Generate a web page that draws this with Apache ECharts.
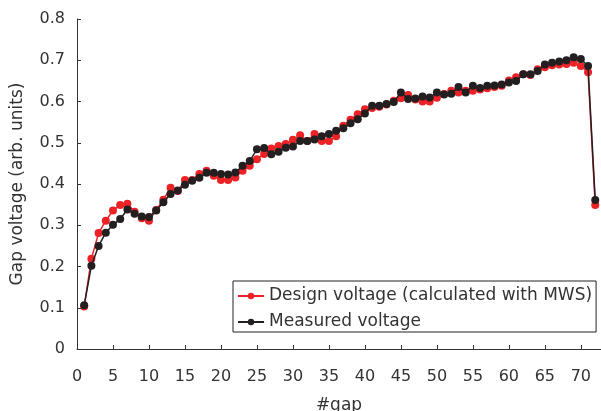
<!DOCTYPE html>
<html>
<head>
<meta charset="utf-8">
<script src="https://cdn.jsdelivr.net/npm/echarts@6/dist/echarts.min.js"></script>
<style>
html,body{margin:0;padding:0;background:#fff;}
#chart{width:601px;height:411px;}
</style>
</head>
<body>
<div id="chart"></div>
<script>
// gap numbers
var gaps = [1,2,3,4,5,6,7,8,9,10,11,12,13,14,15,16,17,18,19,20,21,22,23,24,25,26,27,28,29,30,31,32,33,34,35,36,37,38,39,40,41,42,43,44,45,46,47,48,49,50,51,52,53,54,55,56,57,58,59,60,61,62,63,64,65,66,67,68,69,70,71,72];
// Design voltage (calculated with MWS)
var designVoltage = [0.103,0.219,0.281,0.311,0.336,0.349,0.352,0.333,0.317,0.311,0.337,0.362,0.391,0.383,0.410,0.410,0.424,0.432,0.420,0.410,0.410,0.416,0.432,0.444,0.460,0.473,0.486,0.492,0.497,0.507,0.518,0.504,0.521,0.504,0.504,0.516,0.541,0.556,0.569,0.581,0.584,0.587,0.593,0.602,0.608,0.616,0.605,0.600,0.600,0.609,0.618,0.626,0.622,0.626,0.626,0.629,0.632,0.635,0.638,0.651,0.659,0.666,0.664,0.678,0.683,0.688,0.690,0.691,0.694,0.686,0.671,0.349];
// Measured voltage
var measuredVoltage = [0.106,0.202,0.250,0.282,0.301,0.315,0.338,0.328,0.321,0.320,0.336,0.356,0.376,0.384,0.398,0.408,0.415,0.427,0.427,0.424,0.423,0.428,0.444,0.456,0.484,0.487,0.472,0.478,0.488,0.491,0.504,0.504,0.508,0.516,0.521,0.529,0.535,0.547,0.557,0.571,0.590,0.590,0.594,0.599,0.622,0.606,0.607,0.612,0.610,0.622,0.617,0.619,0.635,0.622,0.638,0.633,0.638,0.639,0.641,0.646,0.650,0.666,0.666,0.674,0.690,0.694,0.697,0.700,0.707,0.703,0.686,0.361];
var seriesNames = ['Design voltage (calculated with MWS)', 'Measured voltage'];
var xTicks = [0,5,10,15,20,25,30,35,40,45,50,55,60,65,70];
var yTicks = [0,0.1,0.2,0.3,0.4,0.5,0.6,0.7,0.8];

function pairs(xs, ys){ return xs.map(function(x,i){ return [x, ys[i]]; }); }

var FONT = 'DejaVu Sans';
var TXT = '#333333';
var chart = echarts.init(document.getElementById('chart'), null, {renderer:'canvas'});
chart.setOption({
  animation:false,
  backgroundColor:'#ffffff',
  textStyle:{fontFamily:FONT},
  grid:{left:77, top:19, right:0, bottom:62, containLabel:false, outerBoundsMode:'none'},
  legend:{
    data:seriesNames,
    orient:'vertical',
    left:233, top:281,
    backgroundColor:'#ffffff',
    borderColor:'#222222', borderWidth:1,
    padding:[6,4,1,4],
    itemWidth:26, itemHeight:8, itemGap:8,
    textStyle:{fontFamily:FONT, fontSize:17, color:TXT, lineHeight:18}
  },
  xAxis:{
    type:'value', min:0, max:72.8, interval:5,
    name:'#gap', nameLocation:'middle', nameGap:48,
    nameTextStyle:{fontFamily:FONT, fontSize:17, color:TXT},
    axisLine:{show:true, lineStyle:{color:'#333333', width:1}},
    axisTick:{show:true, inside:true, length:4, lineStyle:{color:'#333333'}},
    axisLabel:{fontFamily:FONT, fontSize:16, color:TXT, margin:20, showMaxLabel:false,
      formatter:function(v){ return xTicks.indexOf(v) >= 0 ? String(v) : ''; }},
    splitLine:{show:false}
  },
  yAxis:{
    type:'value', min:0, max:0.8, interval:0.1,
    name:'Gap voltage (arb. units)', nameLocation:'middle', nameGap:51,
    nameTextStyle:{fontFamily:FONT, fontSize:17, color:TXT},
    axisLine:{show:true, lineStyle:{color:'#333333', width:1}},
    axisTick:{show:true, inside:true, length:4, lineStyle:{color:'#333333'}},
    axisLabel:{fontFamily:FONT, fontSize:16, color:TXT, margin:12,
      formatter:function(v){ var r = Math.round(v*10)/10; return yTicks.indexOf(r) >= 0 ? String(r) : ''; }},
    splitLine:{show:false}
  },
  series:[
    {name:seriesNames[0], type:'line', data:pairs(gaps, designVoltage),
     symbol:'circle', symbolSize:8, showAllSymbol:true,
     itemStyle:{color:'#ec2227'}, lineStyle:{color:'#ec2227', width:1.5}, z:2},
    {name:seriesNames[1], type:'line', data:pairs(gaps, measuredVoltage),
     symbol:'circle', symbolSize:8, showAllSymbol:true,
     itemStyle:{color:'#231f20'}, lineStyle:{color:'#231f20', width:1.5}, z:3}
  ]
});
</script>
</body>
</html>
